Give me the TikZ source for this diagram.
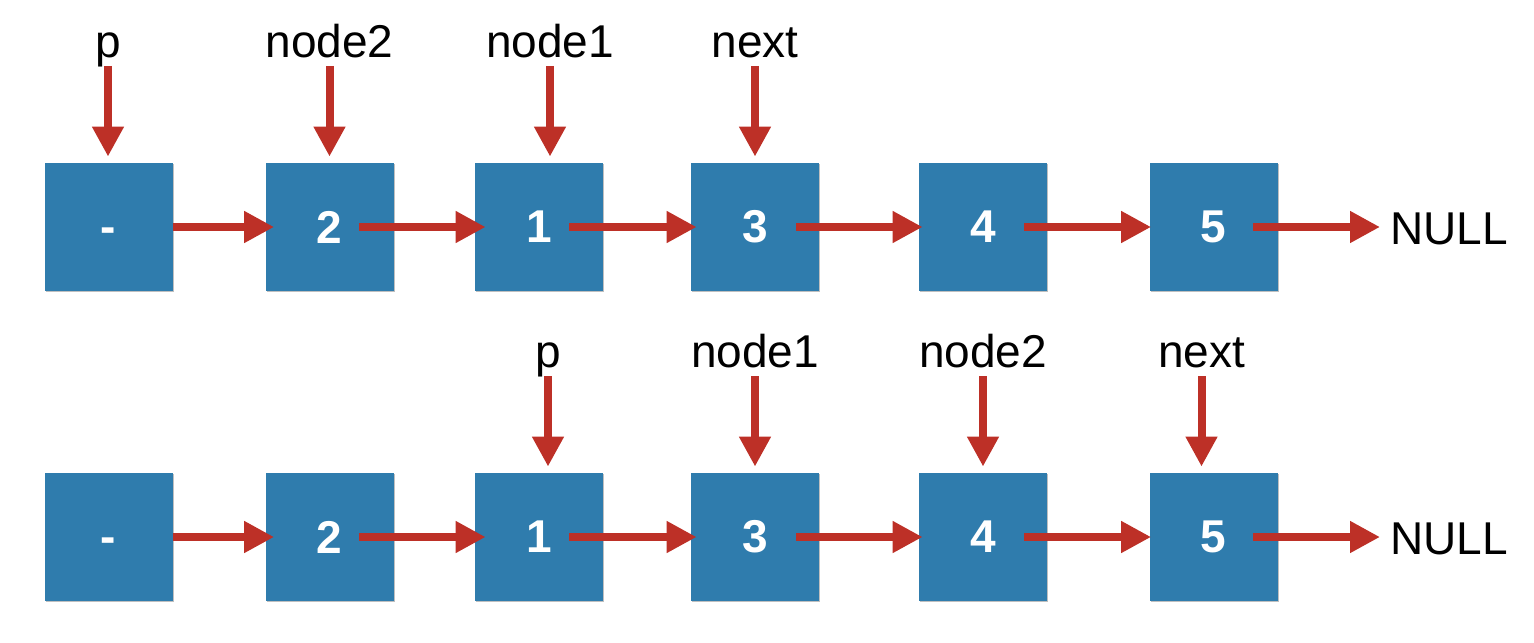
\documentclass[tikz,border=0pt]{standalone}
\usepackage{fontspec}
\setmainfont{Liberation Sans}
\usetikzlibrary{arrows.meta,shadows}
\definecolor{boxblue}{RGB}{47,124,173}
\definecolor{arrred}{RGB}{189,48,39}
\tikzset{
  lnode/.style={fill=boxblue, minimum width=64pt, minimum height=64pt, inner sep=0pt,
    text=white, font=\fontsize{23pt}{23pt}\selectfont\bfseries,
    drop shadow={shadow xshift=0.7pt, shadow yshift=-0.7pt, opacity=0.25, fill=black}},
  lbl/.style={anchor=base, inner sep=0pt, font=\fontsize{23pt}{23pt}\selectfont},
  parrow/.style={draw=arrred, line width=4pt, -{Triangle[length=15pt,width=15pt]}, arrred},
}
\begin{document}
\begin{tikzpicture}[x=0.5pt,y=-0.5pt]
\useasboundingbox (0,0) rectangle (1534,642);
% ---------- row 1 ----------
\node[lnode] (a0) at (108.5,227) {-\vphantom{0}};
\node[lnode] (a2) at (329.5,227) {2};
\node[lnode] (a1) at (539,227) {1};
\node[lnode] (a3) at (755,227) {3};
\node[lnode] (a4) at (983,227) {4};
\node[lnode] (a5) at (1213.5,227) {5};
\node[lbl, anchor=base west] (anull) at (1390,244) {NULL};
\draw[parrow] (a0.east) -- ([xshift=4.5pt]a2.west);
\draw[parrow] ([xshift=-17.5pt]a2.east) -- ([xshift=5.5pt]a1.west);
\draw[parrow] ([xshift=-17pt]a1.east) -- ([xshift=3pt]a3.west);
\draw[parrow] ([xshift=-11.5pt]a3.east) -- ([xshift=2pt]a4.west);
\draw[parrow] ([xshift=-11.5pt]a4.east) -- ([xshift=1pt]a5.west);
\draw[parrow] ([xshift=-12.5pt]a5.east) -- ([xshift=-5pt]anull.west |- a5.east);
\node[lbl] (tp) at (108,58) {p};
\node[lbl] (tn2) at (329.5,58) {node2};
\node[lbl] (tn1) at (550,58) {node1};
\node[lbl] (tnx) at (755,58) {next};
\draw[parrow] ([yshift=-4pt]tp.base) -- ([yshift=3pt]tp.base |- a0.north);
\draw[parrow] ([yshift=-4pt]tn2.base) -- ([yshift=3pt]tn2.base |- a2.north);
\draw[parrow] ([yshift=-4pt]tn1.base) -- ([yshift=3pt]tn1.base |- a1.north);
\draw[parrow] ([yshift=-4pt]tnx.base) -- ([yshift=3pt]tnx.base |- a3.north);
% ---------- row 2 ----------
\node[lnode] (b0) at (108.5,537) {-\vphantom{0}};
\node[lnode] (b2) at (329.5,537) {2};
\node[lnode] (b1) at (539,537) {1};
\node[lnode] (b3) at (755,537) {3};
\node[lnode] (b4) at (983,537) {4};
\node[lnode] (b5) at (1213.5,537) {5};
\node[lbl, anchor=base west] (bnull) at (1390,554) {NULL};
\draw[parrow] (b0.east) -- ([xshift=4.5pt]b2.west);
\draw[parrow] ([xshift=-17.5pt]b2.east) -- ([xshift=5.5pt]b1.west);
\draw[parrow] ([xshift=-17pt]b1.east) -- ([xshift=3pt]b3.west);
\draw[parrow] ([xshift=-11.5pt]b3.east) -- ([xshift=2pt]b4.west);
\draw[parrow] ([xshift=-11.5pt]b4.east) -- ([xshift=1pt]b5.west);
\draw[parrow] ([xshift=-12.5pt]b5.east) -- ([xshift=-5pt]bnull.west |- b5.east);
\node[lbl] (sp) at (548,367) {p};
\node[lbl] (sn1) at (755,367) {node1};
\node[lbl] (sn2) at (983,367) {node2};
\node[lbl] (snx) at (1201.5,367) {next};
\draw[parrow] ([yshift=-4.5pt]sp.base) -- ([yshift=3pt]sp.base |- b1.north);
\draw[parrow] ([yshift=-4.5pt]sn1.base) -- ([yshift=3pt]sn1.base |- b3.north);
\draw[parrow] ([yshift=-4.5pt]sn2.base) -- ([yshift=3pt]sn2.base |- b4.north);
\draw[parrow] ([yshift=-4.5pt]snx.base) -- ([yshift=3pt]snx.base |- b5.north);
\end{tikzpicture}
\end{document}
